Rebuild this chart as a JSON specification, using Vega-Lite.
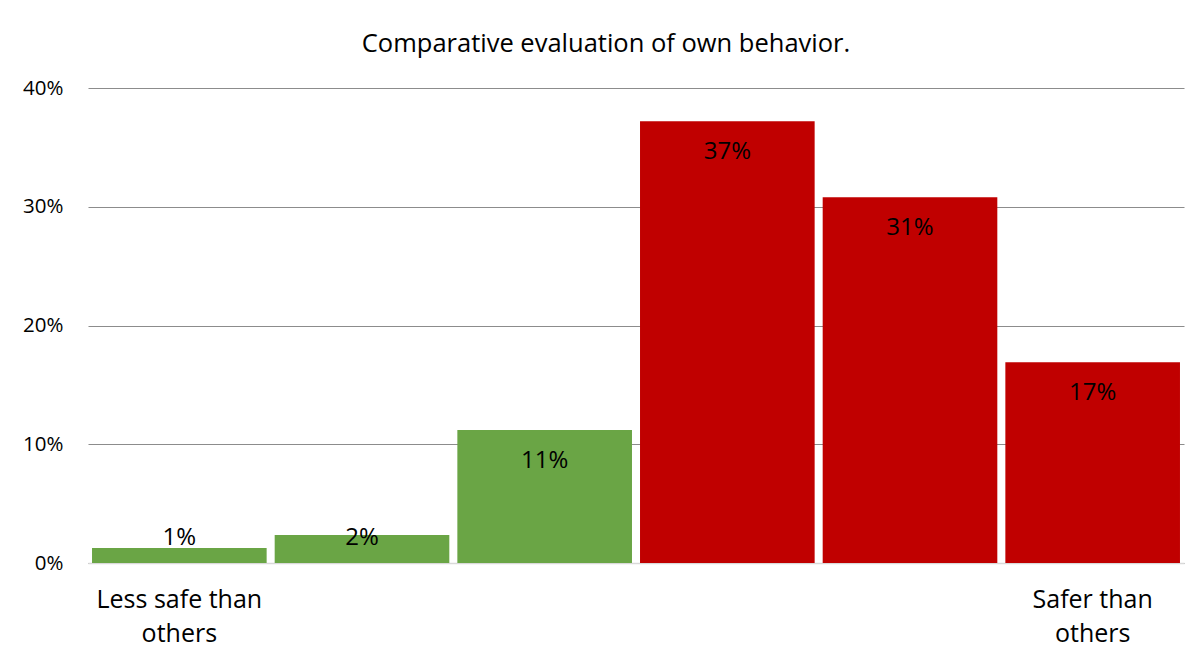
{
  "$schema": "https://vega.github.io/schema/vega-lite/v6.json",
  "width": 1096,
  "height": 475,
  "autosize": {"type": "none"},
  "padding": {"left": 88, "top": 88, "right": 17, "bottom": 101},
  "background": "white",
  "config": {
    "font": "Open Sans",
    "view": {"stroke": null}
  },
  "title": {
    "text": "Comparative evaluation of own behavior.",
    "fontSize": 25.5,
    "fontWeight": "normal",
    "font": "Open Sans",
    "color": "#000000",
    "anchor": "middle",
    "dx": -30,
    "offset": 21
  },
  "data": {
    "values": [
      {"category": 1, "value": 0.0126, "side": "less"},
      {"category": 2, "value": 0.0236, "side": "less"},
      {"category": 3, "value": 0.112, "side": "less"},
      {"category": 4, "value": 0.372, "side": "more"},
      {"category": 5, "value": 0.308, "side": "more"},
      {"category": 6, "value": 0.169, "side": "more"}
    ]
  },
  "encoding": {
    "x": {
      "field": "category",
      "type": "ordinal",
      "scale": {"paddingInner": 0.044, "paddingOuter": 0.022},
      "axis": {
        "title": null,
        "labelAngle": 0,
        "ticks": false,
        "domain": true,
        "domainColor": "#d9d9d9",
        "domainWidth": 1.5,
        "labelFontSize": 25,
        "labelColor": "#000000",
        "labelPadding": 24,
        "labelLineHeight": 34,
        "labelBaseline": "top",
        "labelExpr": "datum.value == 1 ? ['Less safe than', 'others'] : datum.value == 6 ? ['Safer than', 'others'] : ''"
      }
    }
  },
  "layer": [
    {
      "mark": {"type": "bar"},
      "encoding": {
        "y": {
          "field": "value",
          "type": "quantitative",
          "scale": {"domain": [0, 0.4], "nice": false},
          "axis": {
            "title": null,
            "format": ".0%",
            "values": [0, 0.1, 0.2, 0.3, 0.4],
            "domain": false,
            "ticks": false,
            "grid": true,
            "gridColor": "#8c8c8c",
            "gridWidth": 1.2,
            "labelFontSize": 20.5,
            "labelColor": "#000000",
            "labelPadding": 25
          }
        },
        "color": {
          "field": "side",
          "type": "nominal",
          "scale": {"domain": ["less", "more"], "range": ["#6AA545", "#C00000"]},
          "legend": null
        }
      }
    },
    {
      "transform": [
        {"calculate": "max(datum.value, 0.047)", "as": "labelY"}
      ],
      "mark": {"type": "text", "fontSize": 24, "color": "#000000", "baseline": "middle", "dy": 31},
      "encoding": {
        "y": {"field": "labelY", "type": "quantitative"},
        "text": {"field": "value", "type": "quantitative", "format": ".0%"}
      }
    }
  ]
}
